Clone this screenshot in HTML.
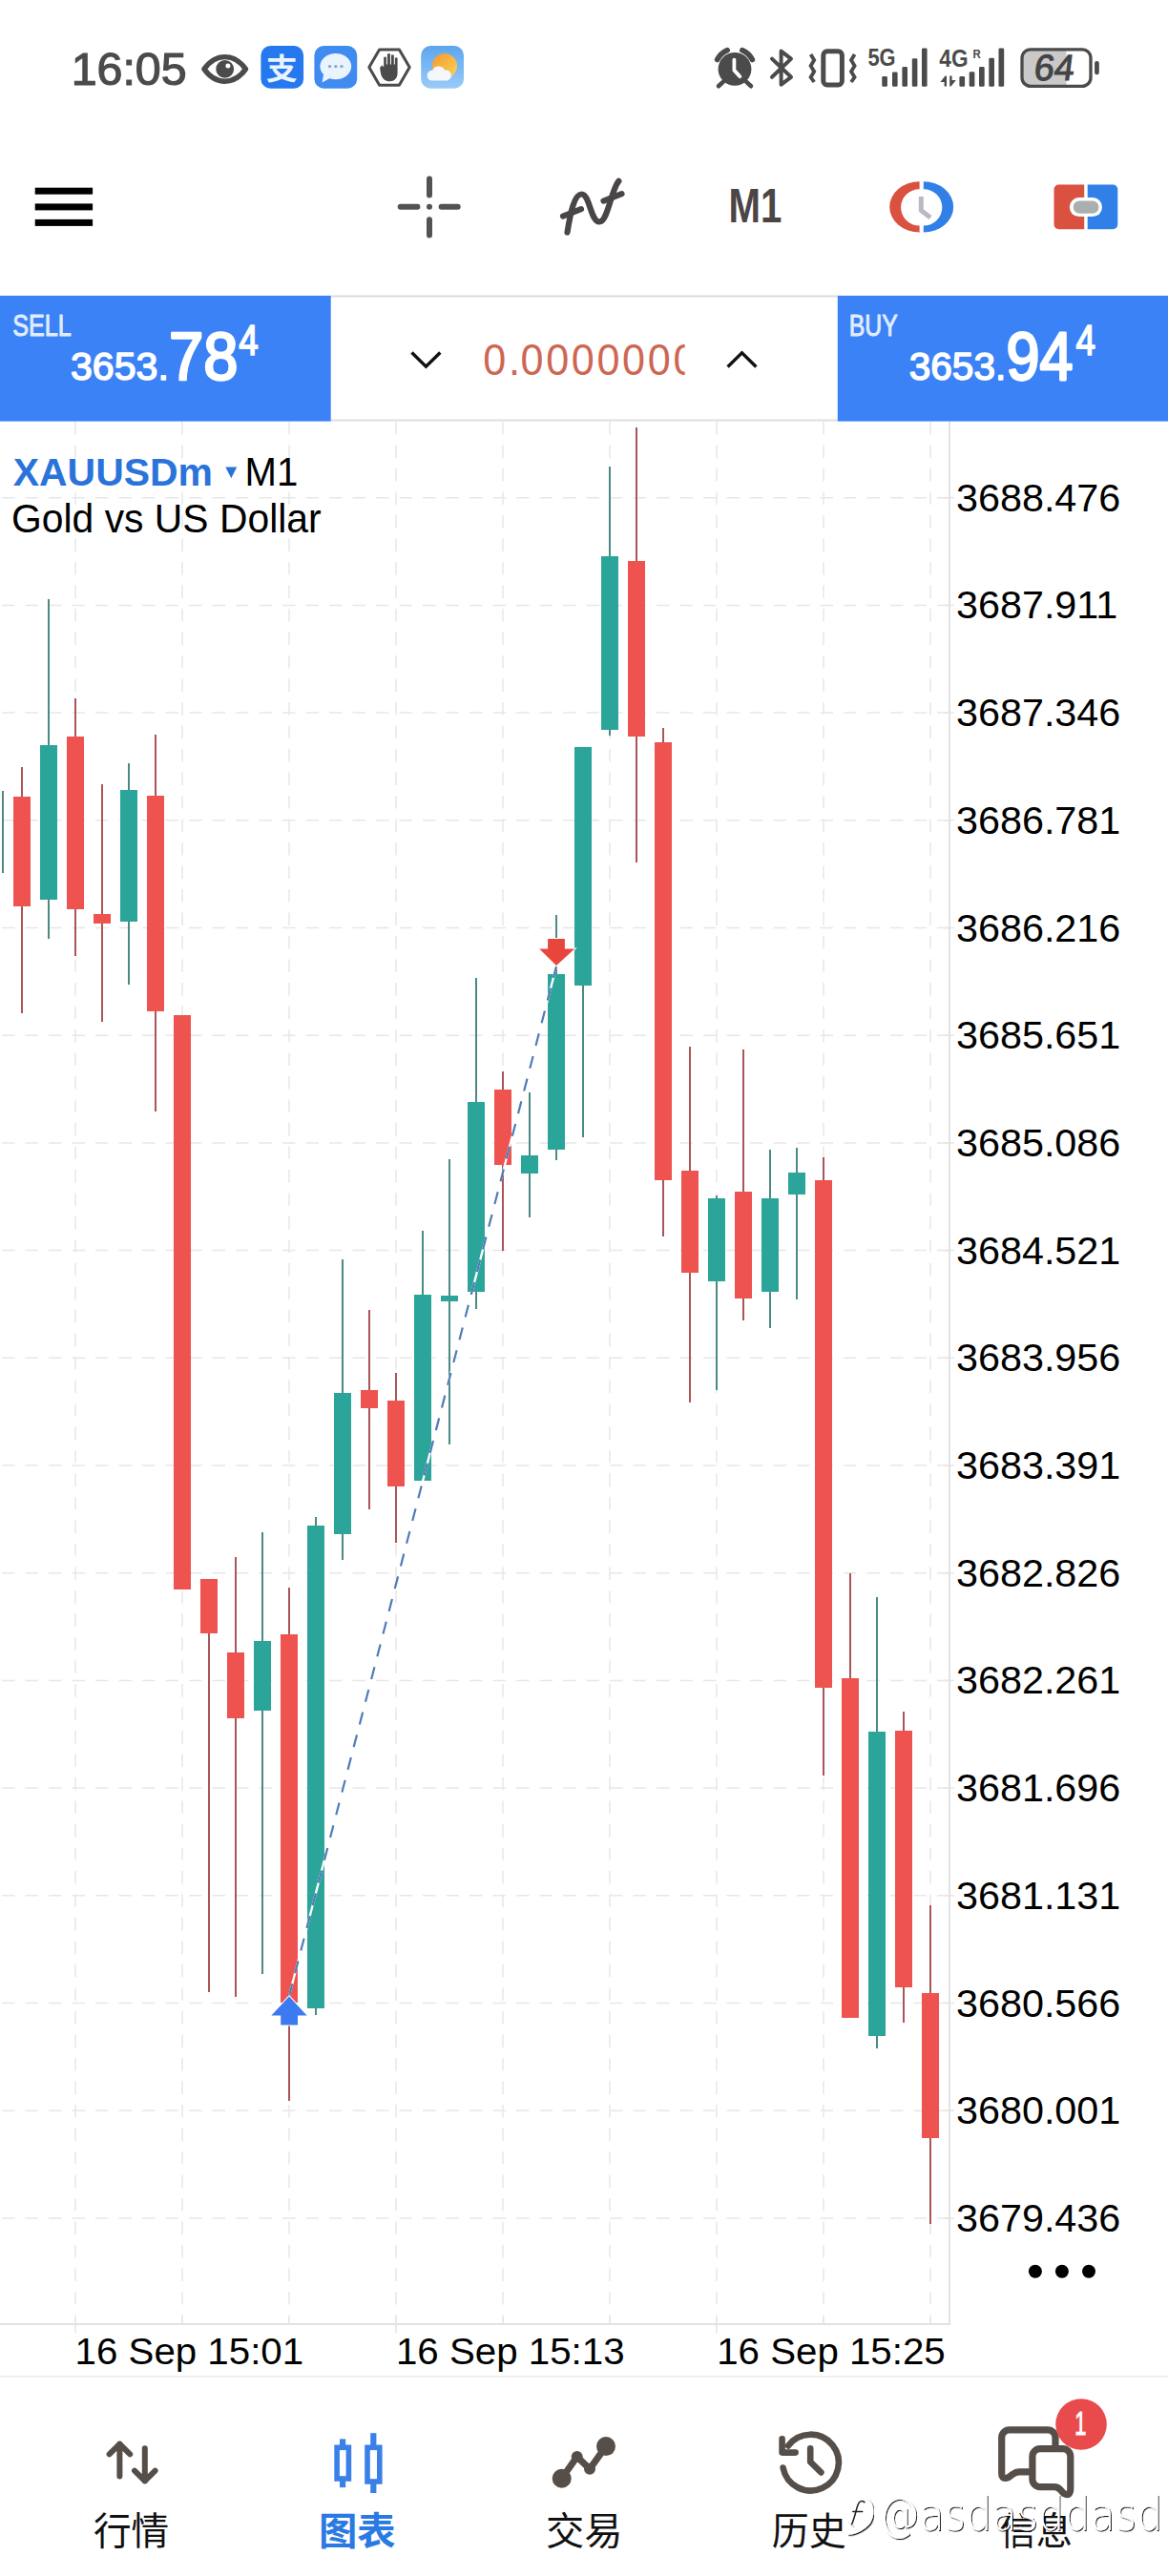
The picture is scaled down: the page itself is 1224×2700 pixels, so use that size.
<!DOCTYPE html>
<html lang="zh"><head><meta charset="utf-8"><title>XAUUSDm M1</title>
<style>
html,body{margin:0;padding:0;background:#fff;}
body{width:1224px;height:2700px;overflow:hidden;font-family:"Liberation Sans","Noto Sans CJK SC",sans-serif;}
svg{display:block;position:absolute;left:0;top:0;}
text{white-space:pre;}
</style></head><body>
<svg width="1224" height="2700" viewBox="0 0 1224 2700">
<defs><filter id="wmsh" x="-5%" y="-20%" width="110%" height="140%"><feDropShadow dx="1.1" dy="1.1" stdDeviation="0.35" flood-color="#000" flood-opacity="0.9"/></filter></defs>
<rect width="1224" height="2700" fill="#fff"/>
<!-- chart -->
<g stroke="#e7e7e7" stroke-width="1.5" stroke-dasharray="13.5 11" fill="none"><line x1="79" y1="442" x2="79" y2="2436"/><line x1="191" y1="442" x2="191" y2="2436"/><line x1="303" y1="442" x2="303" y2="2436"/><line x1="415" y1="442" x2="415" y2="2436"/><line x1="527" y1="442" x2="527" y2="2436"/><line x1="639" y1="442" x2="639" y2="2436"/><line x1="751" y1="442" x2="751" y2="2436"/><line x1="863" y1="442" x2="863" y2="2436"/><line x1="975" y1="442" x2="975" y2="2436"/><line x1="2" y1="521.7" x2="1000" y2="521.7"/><line x1="2" y1="634.4" x2="1000" y2="634.4"/><line x1="2" y1="747.1" x2="1000" y2="747.1"/><line x1="2" y1="859.8" x2="1000" y2="859.8"/><line x1="2" y1="972.5" x2="1000" y2="972.5"/><line x1="2" y1="1085.2" x2="1000" y2="1085.2"/><line x1="2" y1="1197.9" x2="1000" y2="1197.9"/><line x1="2" y1="1310.6" x2="1000" y2="1310.6"/><line x1="2" y1="1423.3" x2="1000" y2="1423.3"/><line x1="2" y1="1536.0" x2="1000" y2="1536.0"/><line x1="2" y1="1648.7" x2="1000" y2="1648.7"/><line x1="2" y1="1761.4" x2="1000" y2="1761.4"/><line x1="2" y1="1874.1" x2="1000" y2="1874.1"/><line x1="2" y1="1986.8" x2="1000" y2="1986.8"/><line x1="2" y1="2099.5" x2="1000" y2="2099.5"/><line x1="2" y1="2212.2" x2="1000" y2="2212.2"/><line x1="2" y1="2324.9" x2="1000" y2="2324.9"/></g>
<g stroke="#e7e7e7" stroke-width="1.6"><line x1="989" y1="521.7" x2="1000" y2="521.7"/><line x1="989" y1="634.4" x2="1000" y2="634.4"/><line x1="989" y1="747.1" x2="1000" y2="747.1"/><line x1="989" y1="859.8" x2="1000" y2="859.8"/><line x1="989" y1="972.5" x2="1000" y2="972.5"/><line x1="989" y1="1085.2" x2="1000" y2="1085.2"/><line x1="989" y1="1197.9" x2="1000" y2="1197.9"/><line x1="989" y1="1310.6" x2="1000" y2="1310.6"/><line x1="989" y1="1423.3" x2="1000" y2="1423.3"/><line x1="989" y1="1536.0" x2="1000" y2="1536.0"/><line x1="989" y1="1648.7" x2="1000" y2="1648.7"/><line x1="989" y1="1761.4" x2="1000" y2="1761.4"/><line x1="989" y1="1874.1" x2="1000" y2="1874.1"/><line x1="989" y1="1986.8" x2="1000" y2="1986.8"/><line x1="989" y1="2099.5" x2="1000" y2="2099.5"/><line x1="989" y1="2212.2" x2="1000" y2="2212.2"/><line x1="989" y1="2324.9" x2="1000" y2="2324.9"/><line x1="79" y1="2428" x2="79" y2="2445"/><line x1="191" y1="2428" x2="191" y2="2437"/><line x1="303" y1="2428" x2="303" y2="2437"/><line x1="415" y1="2428" x2="415" y2="2445"/><line x1="527" y1="2428" x2="527" y2="2437"/><line x1="639" y1="2428" x2="639" y2="2437"/><line x1="751" y1="2428" x2="751" y2="2445"/><line x1="863" y1="2428" x2="863" y2="2437"/><line x1="975" y1="2428" x2="975" y2="2437"/></g>
<rect x="994" y="442" width="2" height="1994" fill="#e2e2e2"/>
<rect x="0" y="2435" width="996" height="2" fill="#e2e2e2"/>
<g shape-rendering="crispEdges"><rect x="2" y="829" width="2" height="86" fill="#4a8a82"/><rect x="22" y="804" width="2" height="258.0" fill="#aa5658"/><rect x="14" y="835" width="18" height="115.0" fill="#ee5350"/><rect x="50" y="627.5" width="2" height="356.5" fill="#4a8a82"/><rect x="42" y="781" width="18" height="161.5" fill="#2ba59a"/><rect x="78" y="732" width="2" height="270.0" fill="#aa5658"/><rect x="70" y="772" width="18" height="181.0" fill="#ee5350"/><rect x="106" y="822" width="2" height="248.5" fill="#aa5658"/><rect x="98" y="958" width="18" height="9.5" fill="#ee5350"/><rect x="134" y="799.6" width="2" height="232.0" fill="#4a8a82"/><rect x="126" y="828.3" width="18" height="137.8" fill="#2ba59a"/><rect x="162" y="769.6" width="2" height="395.4" fill="#aa5658"/><rect x="154" y="833.8" width="18" height="226.2" fill="#ee5350"/><rect x="182" y="1064" width="18" height="602.0" fill="#ee5350"/><rect x="218" y="1655" width="2" height="433.0" fill="#aa5658"/><rect x="210" y="1655" width="18" height="57.0" fill="#ee5350"/><rect x="246" y="1632" width="2" height="461.0" fill="#aa5658"/><rect x="238" y="1732" width="18" height="69.0" fill="#ee5350"/><rect x="274" y="1606" width="2" height="463.0" fill="#4a8a82"/><rect x="266" y="1720" width="18" height="72.5" fill="#2ba59a"/><rect x="302" y="1664" width="2" height="537.5" fill="#aa5658"/><rect x="294" y="1713" width="18" height="386.0" fill="#ee5350"/><rect x="330" y="1590" width="2" height="521.5" fill="#4a8a82"/><rect x="322" y="1599" width="18" height="506.0" fill="#2ba59a"/><rect x="358" y="1320" width="2" height="314.5" fill="#4a8a82"/><rect x="350" y="1460" width="18" height="148.0" fill="#2ba59a"/><rect x="386" y="1373" width="2" height="209.0" fill="#aa5658"/><rect x="378" y="1457" width="18" height="19.0" fill="#ee5350"/><rect x="414" y="1438.5" width="2" height="178.0" fill="#aa5658"/><rect x="406" y="1467.5" width="18" height="90.5" fill="#ee5350"/><rect x="442" y="1289.5" width="2" height="262.0" fill="#4a8a82"/><rect x="434" y="1357" width="18" height="194.5" fill="#2ba59a"/><rect x="470" y="1215" width="2" height="299.0" fill="#4a8a82"/><rect x="462" y="1358.3" width="18" height="5.2" fill="#2ba59a"/><rect x="498" y="1024.5" width="2" height="347.0" fill="#4a8a82"/><rect x="490" y="1155" width="18" height="198.5" fill="#2ba59a"/><rect x="526" y="1123" width="2" height="188.0" fill="#aa5658"/><rect x="518" y="1142" width="18" height="78.5" fill="#ee5350"/><rect x="554" y="1144.5" width="2" height="131.5" fill="#4a8a82"/><rect x="546" y="1210.5" width="18" height="19.0" fill="#2ba59a"/><rect x="582" y="959" width="2" height="256.5" fill="#4a8a82"/><rect x="574" y="1021" width="18" height="183.5" fill="#2ba59a"/><rect x="610" y="782.5" width="2" height="409.0" fill="#4a8a82"/><rect x="602" y="782.5" width="18" height="250.5" fill="#2ba59a"/><rect x="638" y="489" width="2" height="282.0" fill="#4a8a82"/><rect x="630" y="582.5" width="18" height="182.0" fill="#2ba59a"/><rect x="666" y="447.5" width="2" height="456.0" fill="#aa5658"/><rect x="658" y="588" width="18" height="184.0" fill="#ee5350"/><rect x="694" y="763" width="2" height="532.5" fill="#aa5658"/><rect x="686" y="778" width="18" height="458.5" fill="#ee5350"/><rect x="722" y="1097" width="2" height="372.5" fill="#aa5658"/><rect x="714" y="1226.8" width="18" height="106.7" fill="#ee5350"/><rect x="750" y="1252.5" width="2" height="204.5" fill="#4a8a82"/><rect x="742" y="1256" width="18" height="86.5" fill="#2ba59a"/><rect x="778" y="1100" width="2" height="283.6" fill="#aa5658"/><rect x="770" y="1248.5" width="18" height="112.0" fill="#ee5350"/><rect x="806" y="1204.8" width="2" height="186.7" fill="#4a8a82"/><rect x="798" y="1256" width="18" height="97.5" fill="#2ba59a"/><rect x="834" y="1202.8" width="2" height="158.7" fill="#4a8a82"/><rect x="826" y="1229" width="18" height="22.5" fill="#2ba59a"/><rect x="862" y="1213" width="2" height="647.5" fill="#aa5658"/><rect x="854" y="1236.5" width="18" height="532.0" fill="#ee5350"/><rect x="890" y="1649" width="2" height="465.5" fill="#aa5658"/><rect x="882" y="1759" width="18" height="355.5" fill="#ee5350"/><rect x="918" y="1674" width="2" height="472.5" fill="#4a8a82"/><rect x="910" y="1815" width="18" height="319.0" fill="#2ba59a"/><rect x="946" y="1794" width="2" height="325.5" fill="#aa5658"/><rect x="938" y="1813.5" width="18" height="269.0" fill="#ee5350"/><rect x="974" y="1997" width="2" height="334.0" fill="#aa5658"/><rect x="966" y="2088.5" width="18" height="152.5" fill="#ee5350"/></g>
<line x1="303" y1="2092" x2="583" y2="1013" stroke="#ffffff" stroke-width="2.3"/>
<line x1="303" y1="2092" x2="583" y2="1013" stroke="#4f7cb6" stroke-width="2.2" stroke-dasharray="13.2 11.3"/>
<path d="M303 2092.5 L321.6 2112.6 L312 2112.6 L312 2122.6 L294.2 2122.6 L294.2 2112.6 L284.4 2112.6 Z" fill="#3b7af0" stroke="#fff" stroke-width="2" stroke-linejoin="miter" paint-order="stroke"/>
<path d="M583 1012 L602.2 994.4 L591.9 994.4 L591.9 984.1 L574.1 984.1 L574.1 994.4 L565.2 994.4 Z" fill="#e8463d" stroke="#fff" stroke-width="2" paint-order="stroke"/>
<text transform="translate(1001.95,535.70) scale(1.0336,1)" font-size="40.00" fill="#000" style='font-family:"Liberation Sans", sans-serif;font-weight:normal;font-style:normal;letter-spacing:0.00px' >3688.476</text>
<text transform="translate(1001.95,648.40) scale(1.0336,1)" font-size="40.00" fill="#000" style='font-family:"Liberation Sans", sans-serif;font-weight:normal;font-style:normal;letter-spacing:0.00px' >3687.911</text>
<text transform="translate(1001.95,761.10) scale(1.0336,1)" font-size="40.00" fill="#000" style='font-family:"Liberation Sans", sans-serif;font-weight:normal;font-style:normal;letter-spacing:0.00px' >3687.346</text>
<text transform="translate(1001.95,873.80) scale(1.0336,1)" font-size="40.00" fill="#000" style='font-family:"Liberation Sans", sans-serif;font-weight:normal;font-style:normal;letter-spacing:0.00px' >3686.781</text>
<text transform="translate(1001.95,986.50) scale(1.0336,1)" font-size="40.00" fill="#000" style='font-family:"Liberation Sans", sans-serif;font-weight:normal;font-style:normal;letter-spacing:0.00px' >3686.216</text>
<text transform="translate(1001.95,1099.20) scale(1.0336,1)" font-size="40.00" fill="#000" style='font-family:"Liberation Sans", sans-serif;font-weight:normal;font-style:normal;letter-spacing:0.00px' >3685.651</text>
<text transform="translate(1001.95,1211.90) scale(1.0336,1)" font-size="40.00" fill="#000" style='font-family:"Liberation Sans", sans-serif;font-weight:normal;font-style:normal;letter-spacing:0.00px' >3685.086</text>
<text transform="translate(1001.95,1324.60) scale(1.0336,1)" font-size="40.00" fill="#000" style='font-family:"Liberation Sans", sans-serif;font-weight:normal;font-style:normal;letter-spacing:0.00px' >3684.521</text>
<text transform="translate(1001.95,1437.30) scale(1.0336,1)" font-size="40.00" fill="#000" style='font-family:"Liberation Sans", sans-serif;font-weight:normal;font-style:normal;letter-spacing:0.00px' >3683.956</text>
<text transform="translate(1001.95,1550.00) scale(1.0336,1)" font-size="40.00" fill="#000" style='font-family:"Liberation Sans", sans-serif;font-weight:normal;font-style:normal;letter-spacing:0.00px' >3683.391</text>
<text transform="translate(1001.95,1662.70) scale(1.0336,1)" font-size="40.00" fill="#000" style='font-family:"Liberation Sans", sans-serif;font-weight:normal;font-style:normal;letter-spacing:0.00px' >3682.826</text>
<text transform="translate(1001.95,1775.40) scale(1.0336,1)" font-size="40.00" fill="#000" style='font-family:"Liberation Sans", sans-serif;font-weight:normal;font-style:normal;letter-spacing:0.00px' >3682.261</text>
<text transform="translate(1001.95,1888.10) scale(1.0336,1)" font-size="40.00" fill="#000" style='font-family:"Liberation Sans", sans-serif;font-weight:normal;font-style:normal;letter-spacing:0.00px' >3681.696</text>
<text transform="translate(1001.95,2000.80) scale(1.0336,1)" font-size="40.00" fill="#000" style='font-family:"Liberation Sans", sans-serif;font-weight:normal;font-style:normal;letter-spacing:0.00px' >3681.131</text>
<text transform="translate(1001.95,2113.50) scale(1.0336,1)" font-size="40.00" fill="#000" style='font-family:"Liberation Sans", sans-serif;font-weight:normal;font-style:normal;letter-spacing:0.00px' >3680.566</text>
<text transform="translate(1001.95,2226.20) scale(1.0336,1)" font-size="40.00" fill="#000" style='font-family:"Liberation Sans", sans-serif;font-weight:normal;font-style:normal;letter-spacing:0.00px' >3680.001</text>
<text transform="translate(1001.95,2338.90) scale(1.0336,1)" font-size="40.00" fill="#000" style='font-family:"Liberation Sans", sans-serif;font-weight:normal;font-style:normal;letter-spacing:0.00px' >3679.436</text>
<circle cx="1084.9" cy="2380.7" r="7" fill="#000"/>
<circle cx="1112.9" cy="2380.7" r="7" fill="#000"/>
<circle cx="1141" cy="2380.7" r="7" fill="#000"/>
<text transform="translate(78.58,2478.20) scale(1.0196,1)" font-size="39.50" fill="#000" style='font-family:"Liberation Sans", sans-serif;font-weight:normal;font-style:normal;letter-spacing:0.00px' >16 Sep 15:01</text>
<text transform="translate(414.98,2478.20) scale(1.0196,1)" font-size="39.50" fill="#000" style='font-family:"Liberation Sans", sans-serif;font-weight:normal;font-style:normal;letter-spacing:0.00px' >16 Sep 15:13</text>
<text transform="translate(751.18,2478.20) scale(1.0196,1)" font-size="39.50" fill="#000" style='font-family:"Liberation Sans", sans-serif;font-weight:normal;font-style:normal;letter-spacing:0.00px' >16 Sep 15:25</text>
<text transform="translate(13.69,508.50) scale(0.9988,1)" font-size="41.00" fill="#2a73da" style='font-family:"Liberation Sans", sans-serif;font-weight:bold;font-style:normal;letter-spacing:0.00px' >XAUUSDm</text>
<path d="M236.3 489.5 L248.3 489.5 L242.3 501.2 Z" fill="#2a73da"/>
<text transform="translate(256.59,508.50) scale(0.9655,1)" font-size="41.59" fill="#000" style='font-family:"Liberation Sans", sans-serif;font-weight:normal;font-style:normal;letter-spacing:0.00px' >M1</text>
<text transform="translate(12.06,557.70) scale(0.9682,1)" font-size="42.19" fill="#000" style='font-family:"Liberation Sans", sans-serif;font-weight:normal;font-style:normal;letter-spacing:0.00px' >Gold vs US Dollar</text>
<!-- sell/buy bar -->
<rect x="0" y="309.5" width="1224" height="2" fill="#dcdcdc"/>
<rect x="346.7" y="439.5" width="531" height="2" fill="#dedede"/>
<rect x="0" y="310" width="346.7" height="131.6" fill="#3a82f6"/>
<rect x="877.8" y="310" width="346.2" height="131.6" fill="#3a82f6"/>
<text transform="translate(13.29,351.55) scale(0.8181,1)" font-size="30.71" fill="#e1ecfe" style='font-family:"Liberation Sans", sans-serif;font-weight:normal;font-style:normal;letter-spacing:0.00px' stroke="#e1ecfe" stroke-width="0.9" vector-effect="non-scaling-stroke" stroke-linejoin="round">SELL</text>
<text transform="translate(74.01,398.05) scale(1.0094,1)" font-size="40.71" fill="#fff" style='font-family:"Liberation Sans", sans-serif;font-weight:normal;font-style:normal;letter-spacing:0.00px' stroke="#fff" stroke-width="1.5" vector-effect="non-scaling-stroke" stroke-linejoin="round">3653.</text>
<text transform="translate(176.94,397.50) scale(0.9178,1)" font-size="71.14" fill="#fff" style='font-family:"Liberation Sans", sans-serif;font-weight:normal;font-style:normal;letter-spacing:0.00px' stroke="#fff" stroke-width="2.6" vector-effect="non-scaling-stroke" stroke-linejoin="round">78</text>
<text transform="translate(250.26,371.60) scale(0.8367,1)" font-size="44.06" fill="#fff" style='font-family:"Liberation Sans", sans-serif;font-weight:normal;font-style:normal;letter-spacing:0.00px' stroke="#fff" stroke-width="1.6" vector-effect="non-scaling-stroke" stroke-linejoin="round">4</text>
<text transform="translate(889.76,351.55) scale(0.7966,1)" font-size="31.16" fill="#e1ecfe" style='font-family:"Liberation Sans", sans-serif;font-weight:normal;font-style:normal;letter-spacing:0.00px' stroke="#e1ecfe" stroke-width="0.9" vector-effect="non-scaling-stroke" stroke-linejoin="round">BUY</text>
<text transform="translate(952.83,398.05) scale(0.9949,1)" font-size="40.71" fill="#fff" style='font-family:"Liberation Sans", sans-serif;font-weight:normal;font-style:normal;letter-spacing:0.00px' stroke="#fff" stroke-width="1.5" vector-effect="non-scaling-stroke" stroke-linejoin="round">3653.</text>
<text transform="translate(1054.55,397.50) scale(0.8843,1)" font-size="71.14" fill="#fff" style='font-family:"Liberation Sans", sans-serif;font-weight:normal;font-style:normal;letter-spacing:0.00px' stroke="#fff" stroke-width="2.6" vector-effect="non-scaling-stroke" stroke-linejoin="round">94</text>
<text transform="translate(1127.46,371.60) scale(0.8367,1)" font-size="44.06" fill="#fff" style='font-family:"Liberation Sans", sans-serif;font-weight:normal;font-style:normal;letter-spacing:0.00px' stroke="#fff" stroke-width="1.6" vector-effect="non-scaling-stroke" stroke-linejoin="round">4</text>
<path d="M431.5 369.5 L446.4 384.2 L461.3 369.5" fill="none" stroke="#111" stroke-width="3.4"/>
<path d="M762.6 384.5 L777.5 369.8 L792.4 384.5" fill="none" stroke="#111" stroke-width="3.4"/>
<clipPath id="volclip"><rect x="500" y="340" width="217.7" height="70"/></clipPath>
<g clip-path="url(#volclip)"><text transform="translate(506.37,392.80) scale(0.9300,1)" font-size="46.40" fill="#cd6753" style='font-family:"Liberation Sans", sans-serif;font-weight:normal;font-style:normal;letter-spacing:0.00px' >0</text><text transform="translate(533.12,392.80) scale(0.9300,1)" font-size="46.40" fill="#cd6753" style='font-family:"Liberation Sans", sans-serif;font-weight:normal;font-style:normal;letter-spacing:0.00px' >.</text><text transform="translate(545.47,392.80) scale(0.9300,1)" font-size="46.40" fill="#cd6753" style='font-family:"Liberation Sans", sans-serif;font-weight:normal;font-style:normal;letter-spacing:2.87px' >0000000</text></g>
<!-- toolbar -->
<g fill="#000"><rect x="36.7" y="196.7" width="60.4" height="7"/><rect x="36.7" y="213.4" width="60.4" height="7"/><rect x="36.7" y="229.9" width="60.4" height="7"/></g>
<g stroke="#555252" stroke-width="6" stroke-linecap="round" fill="none"><path d="M450 187.4 V204.5 M450 230.3 V246.4 M419.7 216.8 H437.4 M462.6 216.8 H479.7"/></g><circle cx="450" cy="216.8" r="3" fill="#555252"/>
<g stroke="#4b4646" stroke-width="6.2" stroke-linecap="round" fill="none"><path d="M594.5 243.5 C598 222 602 203.5 609.5 203.5 C618 203.5 619 232.5 628 232.5 C637 232.5 640 200 648.4 189.8"/><path d="M590 226.6 L609 219.2"/><path d="M632.5 210.6 L651.5 203.2"/></g>
<text transform="translate(763.38,233.20) scale(0.8000,1)" font-size="50.29" fill="#4b4545" style='font-family:"Liberation Sans", sans-serif;font-weight:bold;font-style:normal;letter-spacing:0.00px' >M1</text>
<g><path d="M963.6 190.3 A31.4 26.6 0 0 0 963.6 243.5 L963.6 236.6 A19.5 19.2 0 0 1 963.6 198.2 Z" fill="#da5140"/><path d="M967.8 190.3 A31.4 26.6 0 0 1 967.8 243.5 L967.8 236.6 A19.5 19.2 0 0 0 967.8 198.2 Z" fill="#3080e8"/><path d="M965.3 206 V220.6 L975 228" fill="none" stroke="#b9b9c1" stroke-width="5" stroke-linecap="butt" stroke-linejoin="miter"/></g>
<g><path d="M1109.5 193.6 H1136.2 V240.2 H1109.5 A5 5 0 0 1 1104.5 235.2 V198.6 A5 5 0 0 1 1109.5 193.6 Z" fill="#da5140"/><path d="M1139.7 193.6 H1166.3 A5 5 0 0 1 1171.3 198.6 V235.2 A5 5 0 0 1 1166.3 240.2 H1139.7 Z" fill="#3080e8"/><rect x="1120.8" y="207" width="34.2" height="20.1" rx="10" fill="#fff"/><rect x="1124.7" y="210.4" width="26.8" height="13.3" rx="6.6" fill="#a9b0af"/></g>
<!-- status bar -->
<text transform="translate(74.63,88.60) scale(1.0075,1)" font-size="48.00" fill="#4b4b4b" style='font-family:"Liberation Sans", sans-serif;font-weight:normal;font-style:normal;letter-spacing:0.00px' stroke="#4b4b4b" stroke-width="1.2">16:05</text>
<g><path d="M213.9 72.4 C221 62.4 229 59.6 235.7 59.6 C242.4 59.6 250.4 62.4 257.5 72.4 C250.4 82.4 242.4 85.2 235.7 85.2 C229 85.2 221 82.4 213.9 72.4 Z" fill="none" stroke="#4b4b4b" stroke-width="5.4" stroke-linejoin="round"/><circle cx="235.7" cy="72.4" r="9.4" fill="#4b4b4b"/><circle cx="238.9" cy="68.9" r="2.5" fill="#fff"/></g>
<rect x="273.4" y="48.1" width="44.7" height="44.7" rx="10" fill="#2578ee"/>
<text transform="translate(278.81,82.90) scale(1.0744,1)" font-size="30.82" fill="#eaf3ff" style='font-family:"Liberation Sans", "Noto Sans CJK SC", sans-serif;font-weight:bold;font-style:normal;letter-spacing:0.00px' >支</text>
<rect x="329.4" y="48.1" width="44.8" height="44.7" rx="10" fill="#3f8bf0"/>
<ellipse cx="351.8" cy="69.6" rx="16.4" ry="13.6" fill="#eaf4ff"/><path d="M339 78 L337.6 86.4 L346.5 81.6 Z" fill="#eaf4ff"/>
<g fill="#8aa6c8"><circle cx="345.6" cy="69.6" r="1.7"/><circle cx="351.8" cy="69.6" r="1.7"/><circle cx="358" cy="69.6" r="1.7"/></g>
<path d="M386.8 70.6 L397.6 51.9 H418.4 L429.2 70.6 L418.4 89.3 H397.6 Z" fill="none" stroke="#4b4b4b" stroke-width="3" stroke-linejoin="round"/>
<path transform="translate(407.6 71.2) scale(1.18) translate(-407.6 -71.2)" d="M399.5 71 L401.5 68.6 L403 70.6 V61.5 H405.3 V68 H406.2 V58.6 H408.7 V68 H409.6 V59.5 H412 V68 H412.9 V62.2 H415.2 V76 C415.2 80.6 412.2 83.2 408.4 83.2 C404.2 83.2 402 80.8 400.6 77.4 Z" fill="#4b4b4b"/>
<defs><linearGradient id="wg" x1="0" y1="0" x2="0" y2="1"><stop offset="0" stop-color="#5ca6ee"/><stop offset="1" stop-color="#9acbf8"/></linearGradient><linearGradient id="sg" x1="0" y1="0" x2="1" y2="1"><stop offset="0" stop-color="#f39a2c"/><stop offset="1" stop-color="#fbd25e"/></linearGradient></defs>
<rect x="441.2" y="48.1" width="44.8" height="44.7" rx="10" fill="url(#wg)"/>
<circle cx="466" cy="69" r="13" fill="url(#sg)"/>
<path d="M452 84.5 A5.4 5.4 0 0 1 453.2 73.8 A7 7 0 0 1 466 73.6 A5.6 5.6 0 0 1 468.6 84.5 Z" fill="#f4f8fd"/>
<g><circle cx="770" cy="72.4" r="17.4" fill="#4b4b4b"/><path d="M751.6 62.6 A21.6 21.6 0 0 1 762.2 52.6" fill="none" stroke="#4b4b4b" stroke-width="5.6" stroke-linecap="round"/><path d="M788.4 62.6 A21.6 21.6 0 0 0 777.8 52.6" fill="none" stroke="#4b4b4b" stroke-width="5.6" stroke-linecap="round"/><path d="M758 85.6 L753 90.2" stroke="#4b4b4b" stroke-width="4.6" stroke-linecap="round"/><path d="M782 85.6 L787 90.2" stroke="#4b4b4b" stroke-width="4.6" stroke-linecap="round"/><path d="M769.4 62.6 V73.6 L775.4 80.2" fill="none" stroke="#fff" stroke-width="3.8" stroke-linecap="round" stroke-linejoin="round"/></g>
<path d="M809 61.6 L829 80.8 L818.6 88.6 V53.6 L829 61.6 L809 80.8" fill="none" stroke="#4b4b4b" stroke-width="4" stroke-linejoin="round" stroke-linecap="round"/>
<rect x="862.8" y="53.8" width="19.6" height="35.2" rx="4" fill="none" stroke="#4b4b4b" stroke-width="5"/>
<g fill="none" stroke="#4b4b4b" stroke-width="3.8" stroke-linejoin="miter"><path d="M849.6 57 L853.2 63 L849.6 69 L853.2 75 L849.6 81 L853.2 86"/><path d="M895.6 57 L892 63 L895.6 69 L892 75 L895.6 81 L892 86"/></g>
<text transform="translate(909.44,69.00) scale(0.8692,1)" font-size="25.14" fill="#4b4b4b" style='font-family:"Liberation Sans", sans-serif;font-weight:bold;font-style:normal;letter-spacing:0.00px' >5G</text>
<g fill="#4b4b4b"><rect x="924.3" y="79.9" width="5.6" height="10.9" rx="1.4"/><rect x="935.0" y="75.6" width="5.6" height="15.2" rx="1.4"/><rect x="945.4" y="70" width="5.6" height="20.8" rx="1.4"/><rect x="955.8" y="61.2" width="5.6" height="29.6" rx="1.4"/><rect x="966.0" y="50.5" width="5.6" height="40.3" rx="1.4"/></g>
<text transform="translate(984.35,69.70) scale(0.9056,1)" font-size="25.00" fill="#4b4b4b" style='font-family:"Liberation Sans", sans-serif;font-weight:bold;font-style:normal;letter-spacing:0.00px' >4G</text>
<text transform="translate(1019.50,60.80) scale(0.8571,1)" font-size="13.33" fill="#4b4b4b" style='font-family:"Liberation Sans", sans-serif;font-weight:bold;font-style:normal;letter-spacing:0.00px' >R</text>
<path d="M985.4 86 L990.6 79.4 H992 V90.6 H989.6 V86 Z M1001.8 84 L996.6 90.6 H995.2 V79.4 H997.6 V84 Z" fill="#4b4b4b"/>
<g fill="#4b4b4b"><rect x="1005.4" y="79.9" width="5.7" height="10.9" rx="1.4"/><rect x="1015.7" y="75.2" width="5.7" height="15.6" rx="1.4"/><rect x="1026.0" y="70" width="5.7" height="20.8" rx="1.4"/><rect x="1036.3" y="60.8" width="5.7" height="30.0" rx="1.4"/><rect x="1046.5" y="50.5" width="5.7" height="40.3" rx="1.4"/></g>
<clipPath id="batclip"><rect x="1071" y="51.8" width="72" height="38.6" rx="9"/></clipPath>
<rect x="1071" y="51.8" width="46.5" height="38.6" fill="#c9c9c9" clip-path="url(#batclip)"/>
<rect x="1071" y="51.8" width="72" height="38.6" rx="9" fill="none" stroke="#4b4b4b" stroke-width="3.3"/>
<rect x="1147.1" y="63.9" width="4.7" height="14.4" rx="2.3" fill="#4b4b4b"/>
<g transform="translate(1105.6 71) skewX(-7) translate(-1105.6 -71)"><text transform="translate(1084.21,84.40) scale(0.9927,1)" font-size="38.14" fill="#444" style='font-family:"Liberation Sans", sans-serif;font-weight:normal;font-style:normal;letter-spacing:0.00px' stroke="#444" stroke-width="1.1">64</text></g>
<!-- bottom nav -->
<rect x="0" y="2490" width="1224" height="2" fill="#f1f1f1"/>
<g fill="none" stroke="#564e49" stroke-width="6" stroke-linecap="round" stroke-linejoin="round"><path d="M125.4 2595.5 V2561.5 M114.6 2572.4 L125.4 2561.6 L136.2 2572.4"/><path d="M151.8 2566.2 V2600.6 M141 2589.6 L151.8 2600.4 L162.6 2589.6"/></g>
<text transform="translate(97.91,2666.80) scale(0.9969,1)" font-size="39.76" fill="#111" style='font-family:"Liberation Sans", "Noto Sans CJK SC", sans-serif;font-weight:normal;font-style:normal;letter-spacing:0.00px' >行情</text>
<g fill="#3b80e8"><rect x="356" y="2556.4" width="6.2" height="50.8"/><rect x="388.2" y="2550.2" width="6.2" height="62.8"/></g>
<g fill="#fff" stroke="#3b80e8" stroke-width="5.6"><rect x="353.1" y="2565.3" width="12.3" height="32.7"/><rect x="385" y="2565.3" width="12.8" height="35.7"/></g>
<text transform="translate(333.97,2666.80) scale(1.0273,1)" font-size="39.29" fill="#2b79e2" style='font-family:"Liberation Sans", "Noto Sans CJK SC", sans-serif;font-weight:bold;font-style:normal;letter-spacing:0.00px' >图表</text>
<g><path d="M588.7 2597.7 L604.7 2574.9 L618 2587.8 L635 2564.1" fill="none" stroke="#564e49" stroke-width="7"/><circle cx="588.7" cy="2597.7" r="10" fill="#564e49"/><circle cx="635" cy="2564.1" r="10" fill="#564e49"/><circle cx="604.7" cy="2574.9" r="6" fill="#564e49"/><circle cx="618" cy="2587.8" r="6" fill="#564e49"/></g>
<text transform="translate(571.88,2666.80) scale(1.0262,1)" font-size="39.29" fill="#111" style='font-family:"Liberation Sans", "Noto Sans CJK SC", sans-serif;font-weight:normal;font-style:normal;letter-spacing:0.00px' >交易</text>
<g fill="none" stroke="#564e49" stroke-width="6.6" stroke-linecap="round" stroke-linejoin="round"><path d="M820.6 2586.5 A29.4 29.4 0 1 0 826 2563.4"/><path d="M819.6 2556.4 V2570.6 H833.6"/><path d="M849.2 2566.2 V2580.4 L860.4 2591.4"/></g>
<text transform="translate(808.74,2666.80) scale(0.9811,1)" font-size="39.76" fill="#111" style='font-family:"Liberation Sans", "Noto Sans CJK SC", sans-serif;font-weight:normal;font-style:normal;letter-spacing:0.00px' >历史</text>
<g fill="#fff" stroke="#564e49" stroke-width="7.2" stroke-linejoin="round"><path d="M1057.7 2546.9 H1098 A8 8 0 0 1 1106 2554.9 V2582.8 A8 8 0 0 1 1098 2590.8 H1068 Q1064.5 2590.8 1061.5 2593.2 L1057.5 2596.2 Q1049.7 2600 1049.7 2592 V2554.9 A8 8 0 0 1 1057.7 2546.9 Z"/><path d="M1089.9 2566.7 H1113.8 A8 8 0 0 1 1121.8 2574.7 V2608 Q1121.8 2617.4 1114.6 2613.4 L1111 2609.4 Q1108.5 2606.6 1105 2606.6 H1089.9 A8 8 0 0 1 1081.9 2598.6 V2574.7 A8 8 0 0 1 1089.9 2566.7 Z"/></g>
<text transform="translate(1047.55,2666.80) scale(0.9740,1)" font-size="39.29" fill="#111" style='font-family:"Liberation Sans", "Noto Sans CJK SC", sans-serif;font-weight:normal;font-style:normal;letter-spacing:0.00px' >信息</text>
<circle cx="1133" cy="2541" r="26.8" fill="#e94b4d"/>
<text transform="translate(1126.25,2552.40) scale(0.6338,1)" font-size="34.49" fill="#fff" style='font-family:"Liberation Sans", sans-serif;font-weight:normal;font-style:normal;letter-spacing:0.00px' stroke="#fff" stroke-width="1">1</text>
<g transform="translate(-94 -266) scale(1.1)"><g filter="url(#wmsh)" fill="none" stroke="#fff" stroke-width="2.2" stroke-linecap="round"><path d="M893 2656 C898 2654 900 2652 901 2649 C893 2645 889 2637 892 2630 C895 2622 906 2619 912 2624 C919 2630 918 2644 909 2650 C905 2653 899 2656 893 2656 Z" fill="#fff"/></g><g fill="none" stroke="#222" stroke-width="1.4" stroke-linecap="round"><path d="M897 2647 C900 2640 901 2633 903 2628 C904 2625 907 2624 909 2626"/><path d="M898 2635 H907"/></g></g>
<g><text transform="translate(920.68,2652.00) scale(0.9057,1)" font-size="47.37" fill="#fff" style='font-family:"DejaVu Sans", "Liberation Sans", sans-serif;font-weight:200;font-style:normal;letter-spacing:0.00px' filter="url(#wmsh)">@asdasddasd</text></g>
</svg>
</body></html>
